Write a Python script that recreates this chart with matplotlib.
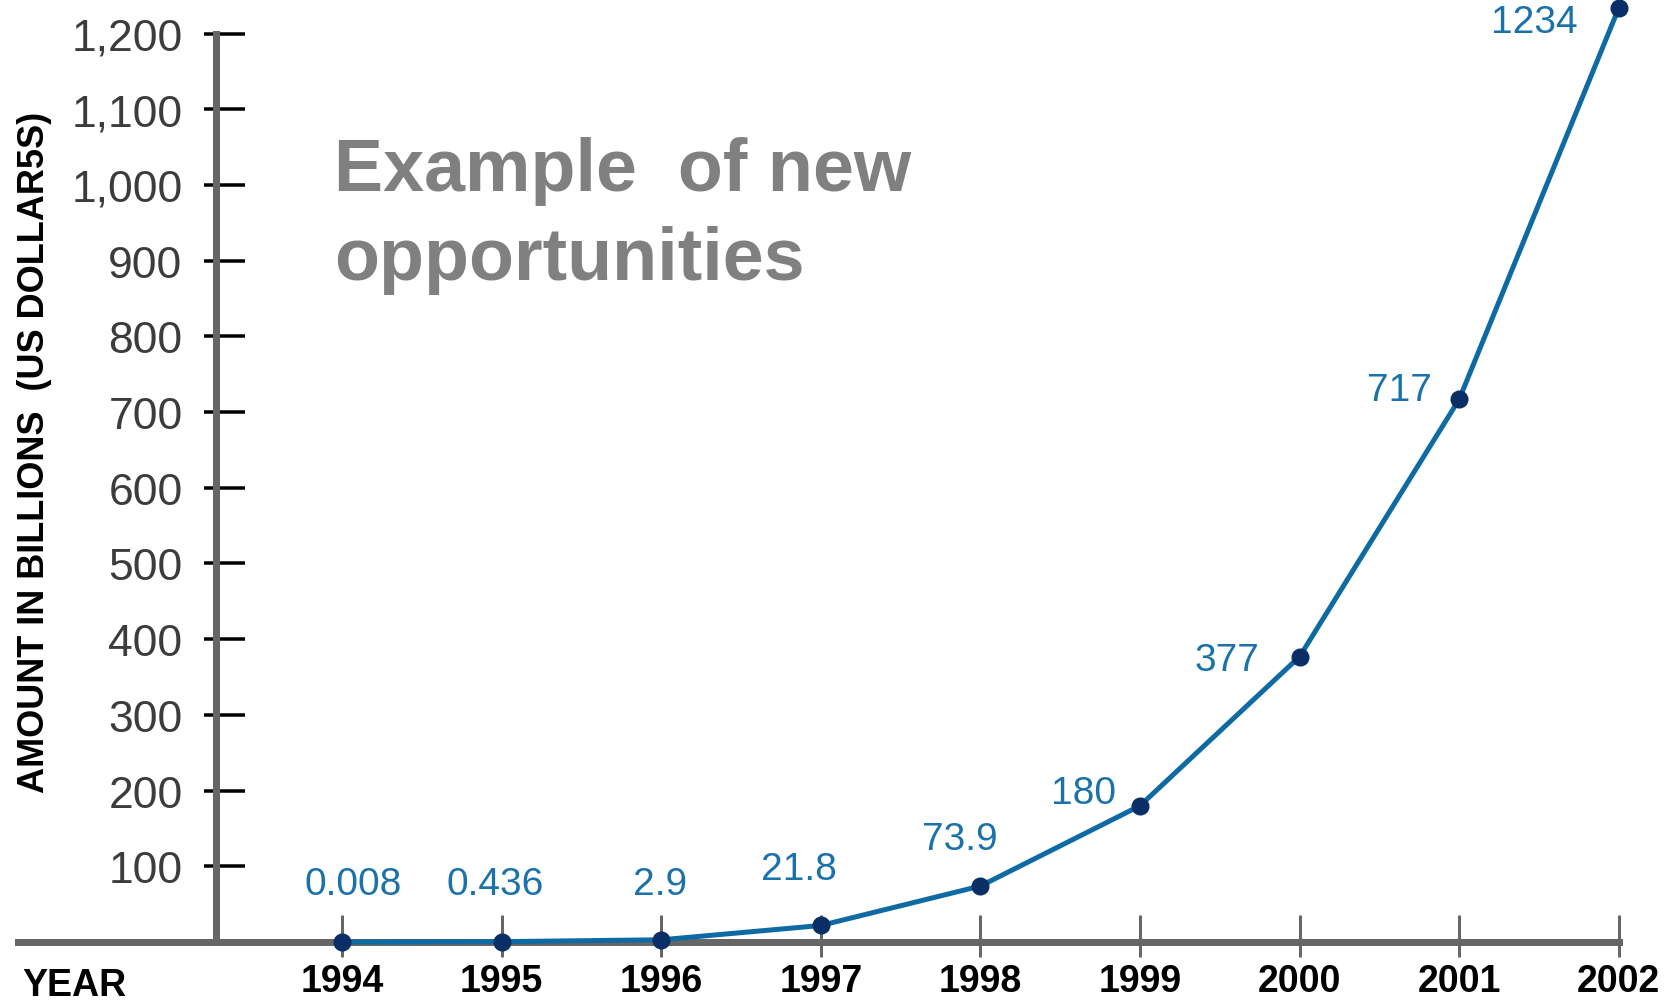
import matplotlib
matplotlib.use("Agg")
import matplotlib.pyplot as plt
from matplotlib.ticker import FixedLocator, FuncFormatter

# data
years = [1994, 1995, 1996, 1997, 1998, 1999, 2000, 2001, 2002]
amounts = [0.008, 0.436, 2.9, 21.8, 73.9, 180, 377, 717, 1234]
amount_labels = ["0.008", "0.436", "2.9", "21.8", "73.9", "180", "377", "717", "1234"]
y_ticks = [100, 200, 300, 400, 500, 600, 700, 800, 900, 1000, 1100, 1200]

# label offsets in pixels (dx, dy) from each point
label_offsets = [(11, 58), (-6, 58), (-1, 56), (-22, 56), (-21, 47),
                 (-57, 13), (-73, -3), (-60, 9), (-85, -14)]

plain = ["Liberation Sans", "DejaVu Sans"]
axis_grey = "#666666"
px = 0.72  # pixel -> point at dpi 100

fig = plt.figure(figsize=(16.64, 10.04), dpi=100)
ax = fig.add_axes([0, 0, 1, 1])
ax.set_xlim(1991.857, 2002.283)
ax.set_ylim(-80.6, 1245.7)

for s in ["top", "right"]:
    ax.spines[s].set_visible(False)
ax.spines["left"].set_position(("data", 1993.21))
ax.spines["left"].set_bounds(0, 1200)
ax.spines["bottom"].set_position(("data", 0))
ax.spines["bottom"].set_bounds(1991.97, 2002)
for s in ["left", "bottom"]:
    ax.spines[s].set_linewidth(7 * px)
    ax.spines[s].set_color(axis_grey)

ax.yaxis.set_major_locator(FixedLocator(y_ticks))
ax.yaxis.set_minor_locator(FixedLocator(y_ticks))
ax.yaxis.remove_overlapping_locs = False
ax.yaxis.set_major_formatter(FuncFormatter(lambda v, p: f"{int(v):,}"))
ax.xaxis.set_major_locator(FixedLocator(years))
ax.xaxis.set_minor_locator(FixedLocator(years))
ax.xaxis.remove_overlapping_locs = False
ax.set_xticklabels([str(y) for y in years])

ax.tick_params(axis="y", which="major", direction="in", length=29 * px,
               width=3.5 * px, color="black", pad=24, labelsize=32,
               labelcolor="#3c3c3c")
ax.tick_params(axis="y", which="minor", direction="out", length=12 * px,
               width=3.5 * px, color="black")
ax.tick_params(axis="x", which="major", direction="in", length=27 * px,
               width=3 * px, color=axis_grey, pad=15, labelsize=27,
               labelcolor="black")
ax.tick_params(axis="x", which="minor", direction="out", length=15 * px,
               width=3 * px, color=axis_grey)
for t in ax.get_yticklabels():
    t.set_family(plain)
for t in ax.get_xticklabels():
    t.set_family(plain)
    t.set_fontweight("bold")

ax.plot(years, amounts, color="#0e6aa3", lw=3.6, marker="o", ms=12,
        mfc="#0a2f66", mec="#0a2f66", clip_on=False, zorder=3)

for yr, val, txt, (dx, dy) in zip(years, amounts, amount_labels, label_offsets):
    ax.annotate(txt, (yr, val), xytext=(dx * px, dy * px),
                textcoords="offset points", ha="center", va="center",
                fontsize=28, color="#1b72ab", family=plain)

fig.text(22 / 1664, 1 - 968 / 1004, "YEAR", ha="left", va="top",
         fontsize=27, fontweight="bold", family=plain, color="black")
fig.text(35 / 1664, 1 - 452 / 1004, "AMOUNT IN BILLIONS  (US DOLLAR5S)",
         rotation=90, ha="center", va="center", fontsize=26,
         fontweight="bold", family=plain, color="black")

fig.text(334 / 1664, 1 - 191 / 1004, "Example  of new", ha="left",
         va="baseline", fontsize=53, fontweight="bold", family=plain,
         color="#808080")
fig.text(334 / 1664, 1 - 280 / 1004, "opportunities", ha="left",
         va="baseline", fontsize=53, fontweight="bold", family=plain,
         color="#808080")

fig.savefig("out.png", dpi=100)
